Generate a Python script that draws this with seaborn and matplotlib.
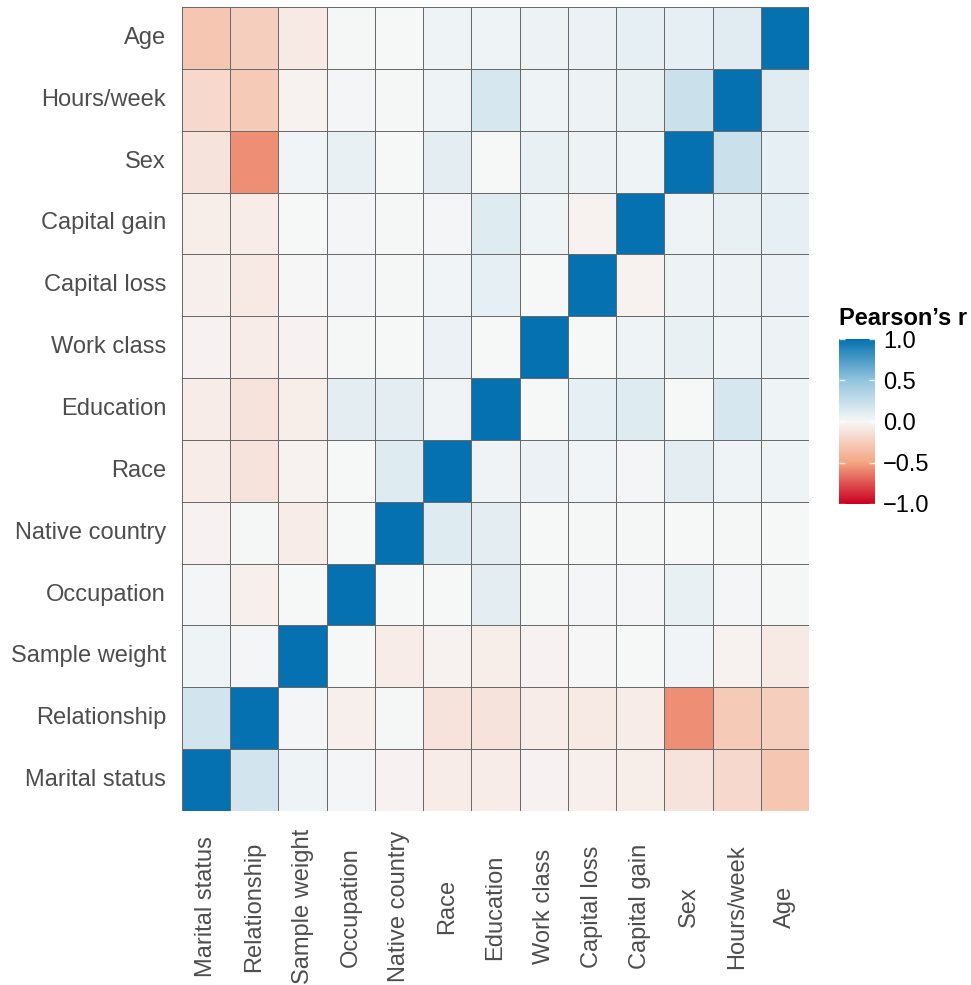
import numpy as np
import pandas as pd
import seaborn as sns
import matplotlib.pyplot as plt
from matplotlib.colors import LinearSegmentedColormap

# variables in column order (left to right); rows are the same, bottom to top
variables = ["Marital status", "Relationship", "Sample weight", "Occupation",
             "Native country", "Race", "Education", "Work class", "Capital loss",
             "Capital gain", "Sex", "Hours/week", "Age"]

# one row of the (symmetric) correlation matrix per variable, columns as above
r_marital = [1.0, 0.18, 0.045, 0.02, -0.025, -0.07, -0.065, -0.025, -0.05, -0.055, -0.12, -0.18, -0.29]
r_relationship = [0.18, 1.0, 0.02, -0.05, 0.01, -0.12, -0.115, -0.07, -0.085, -0.07, -0.57, -0.27, -0.25]
r_sample_weight = [0.045, 0.02, 1.0, 0.0, -0.07, -0.035, -0.06, -0.03, -0.005, 0.0, 0.025, -0.035, -0.085]
r_occupation = [0.02, -0.05, 0.0, 1.0, 0.0, 0.0, 0.095, 0.015, 0.02, 0.02, 0.075, 0.02, 0.01]
r_native_country = [-0.025, 0.01, -0.07, 0.0, 1.0, 0.12, 0.095, 0.0, 0.015, 0.015, 0.0, 0.01, 0.005]
r_race = [-0.07, -0.12, -0.035, 0.0, 0.12, 1.0, 0.035, 0.055, 0.03, 0.02, 0.095, 0.045, 0.04]
r_education = [-0.065, -0.115, -0.06, 0.095, 0.095, 0.035, 1.0, 0.0, 0.08, 0.12, 0.005, 0.16, 0.045]
r_work_class = [-0.025, -0.07, -0.03, 0.015, 0.0, 0.055, 0.0, 1.0, 0.0, 0.045, 0.075, 0.045, 0.05]
r_capital_loss = [-0.05, -0.085, -0.005, 0.02, 0.015, 0.03, 0.08, 0.0, 1.0, -0.035, 0.05, 0.05, 0.06]
r_capital_gain = [-0.055, -0.07, 0.0, 0.02, 0.015, 0.02, 0.12, 0.045, -0.035, 1.0, 0.045, 0.075, 0.085]
r_sex = [-0.12, -0.57, 0.025, 0.075, 0.0, 0.095, 0.005, 0.075, 0.05, 0.045, 1.0, 0.22, 0.085]
r_hours_week = [-0.18, -0.27, -0.035, 0.02, 0.01, 0.045, 0.16, 0.045, 0.05, 0.075, 0.22, 1.0, 0.11]
r_age = [-0.29, -0.25, -0.085, 0.01, 0.005, 0.04, 0.045, 0.05, 0.06, 0.085, 0.085, 0.11, 1.0]

cbar_ticks = [-1.0, -0.5, 0.0, 0.5, 1.0]
rdbu_colors = ["#ca0020", "#f4a582", "#f7f7f7", "#92c5de", "#0571b0"]

corr = pd.DataFrame([r_marital, r_relationship, r_sample_weight, r_occupation,
                     r_native_country, r_race, r_education, r_work_class,
                     r_capital_loss, r_capital_gain, r_sex, r_hours_week, r_age],
                    index=variables, columns=variables)
corr = corr.iloc[::-1]  # Age on top, Marital status at the bottom

sns.set_theme(style="white")
plt.rcParams['font.family'] = ['Liberation Sans', 'DejaVu Sans']

cmap = LinearSegmentedColormap.from_list("rdbu5", rdbu_colors)

W, H = 971, 985
fig = plt.figure(figsize=(W / 100, H / 100), dpi=100)
ax = fig.add_axes([182 / W, 1 - 811 / H, (809 - 182) / W, (811 - 7) / H])
cax = fig.add_axes([839 / W, 1 - 504 / H, 36 / W, (504 - 339) / H])

sns.heatmap(corr, ax=ax, cbar_ax=cax, cmap=cmap, vmin=-1, vmax=1,
            linewidths=0.7, linecolor="#6a6a6a", square=False)

ax.set_xticklabels(variables, rotation=90, fontsize=17, color="#4d4d4d", va="center", ha="center")
ax.set_yticklabels(corr.index, rotation=0, fontsize=17, color="#4d4d4d")
ax.tick_params(axis="x", length=0, pad=69)
ax.tick_params(axis="y", length=0, pad=11.5)
ax.set_xlabel("")
ax.set_ylabel("")

# colorbar like a ggplot legend: no frame, white ticks on both edges
cbar = ax.collections[0].colorbar
cbar.set_ticks(cbar_ticks)
cbar.outline.set_visible(False)
cbar.ax.set_axisbelow(False)
cbar.ax.tick_params(direction="in", color=(1, 1, 1, 0.8), length=4.5, width=1,
                    left=True, right=True, labelsize=17, labelcolor="black", pad=6)
cbar.ax.set_title("Pearson\u2019s r", fontsize=17, fontweight="bold", color="black",
                  loc="left", pad=10, x=0.0)

plt.savefig("out.png", dpi=100)
